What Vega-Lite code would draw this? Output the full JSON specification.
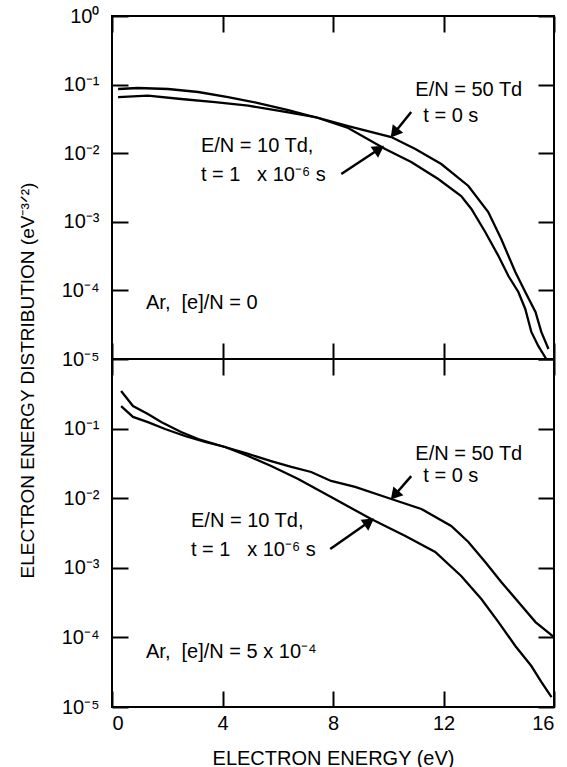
{
  "$schema": "https://vega.github.io/schema/vega-lite/v6.json",
  "padding": {"left": 17, "top": 5, "right": 6, "bottom": 2},
  "background": "white",
  "bounds": "flush",
  "config": {
    "font": "Liberation Sans",
    "view": {"stroke": "black", "strokeWidth": 2},
    "axis": {"domain": false, "grid": false, "tickSize": -16, "tickWidth": 2, "tickColor": "black", "labelColor": "black", "labelFontSize": 20, "labelFont": "Liberation Sans", "titleFont": "Liberation Sans", "titleFontSize": 20, "titleFontWeight": "normal", "titleColor": "black", "labelPadding": 29},
    "concat": {"spacing": 0}
  },
  "datasets": {
    "top": [
      {"s": "10", "x": 0.22, "y": 0.0863}, {"s": "10", "x": 0.94, "y": 0.0892}, {"s": "10", "x": 2.03, "y": 0.0863}, {"s": "10", "x": 3.12, "y": 0.078}, {"s": "10", "x": 4.2, "y": 0.0659}, {"s": "10", "x": 5.29, "y": 0.0539}, {"s": "10", "x": 6.38, "y": 0.0426}, {"s": "10", "x": 7.46, "y": 0.0326}, {"s": "10", "x": 8.55, "y": 0.0233}, {"s": "10", "x": 9.89, "y": 0.0115}, {"s": "10", "x": 10.83, "y": 0.00745}, {"s": "10", "x": 11.81, "y": 0.00421}, {"s": "10", "x": 12.64, "y": 0.00238}, {"s": "10", "x": 13.01, "y": 0.00154}, {"s": "10", "x": 13.51, "y": 0.00071}, {"s": "10", "x": 13.99, "y": 0.000317}, {"s": "10", "x": 14.35, "y": 0.000162}, {"s": "10", "x": 14.71, "y": 0.0000948}, {"s": "10", "x": 14.96, "y": 0.0000536}, {"s": "10", "x": 15.18, "y": 0.0000248}, {"s": "10", "x": 15.43, "y": 0.0000155}, {"s": "10", "x": 15.72, "y": 0.00001},
      {"s": "50", "x": 0.22, "y": 0.0659}, {"s": "50", "x": 1.3, "y": 0.0689}, {"s": "50", "x": 2.5, "y": 0.0617}, {"s": "50", "x": 3.73, "y": 0.0557}, {"s": "50", "x": 4.93, "y": 0.0492}, {"s": "50", "x": 6.12, "y": 0.0412}, {"s": "50", "x": 7.36, "y": 0.0337}, {"s": "50", "x": 8.55, "y": 0.0249}, {"s": "50", "x": 10.11, "y": 0.0172}, {"s": "50", "x": 10.98, "y": 0.0115}, {"s": "50", "x": 11.92, "y": 0.00696}, {"s": "50", "x": 12.9, "y": 0.00333}, {"s": "50", "x": 13.62, "y": 0.00139}, {"s": "50", "x": 14.09, "y": 0.000561}, {"s": "50", "x": 14.6, "y": 0.000185}, {"s": "50", "x": 14.96, "y": 0.0000948}, {"s": "50", "x": 15.33, "y": 0.0000484}, {"s": "50", "x": 15.54, "y": 0.0000248}, {"s": "50", "x": 15.8, "y": 0.000014}
    ],
    "bottom": [
      {"s": "10", "x": 0.33, "y": 0.347}, {"s": "10", "x": 0.76, "y": 0.211}, {"s": "10", "x": 1.3, "y": 0.162}, {"s": "10", "x": 1.78, "y": 0.124}, {"s": "10", "x": 2.5, "y": 0.0893}, {"s": "10", "x": 3.12, "y": 0.0709}, {"s": "10", "x": 4.09, "y": 0.0544}, {"s": "10", "x": 4.93, "y": 0.0404}, {"s": "10", "x": 5.76, "y": 0.029}, {"s": "10", "x": 6.74, "y": 0.0189}, {"s": "10", "x": 7.93, "y": 0.0104}, {"s": "10", "x": 9.38, "y": 0.00502}, {"s": "10", "x": 10.62, "y": 0.00286}, {"s": "10", "x": 11.7, "y": 0.00169}, {"s": "10", "x": 12.64, "y": 0.000762}, {"s": "10", "x": 13.37, "y": 0.000356}, {"s": "10", "x": 13.99, "y": 0.000166}, {"s": "10", "x": 14.6, "y": 0.0000752}, {"s": "10", "x": 15.18, "y": 0.0000388}, {"s": "10", "x": 15.54, "y": 0.0000229}, {"s": "10", "x": 15.91, "y": 0.0000139},
      {"s": "50", "x": 0.33, "y": 0.211}, {"s": "50", "x": 0.76, "y": 0.147}, {"s": "50", "x": 1.3, "y": 0.124}, {"s": "50", "x": 1.92, "y": 0.0987}, {"s": "50", "x": 2.64, "y": 0.0783}, {"s": "50", "x": 3.37, "y": 0.0642}, {"s": "50", "x": 4.09, "y": 0.0544}, {"s": "50", "x": 4.93, "y": 0.0432}, {"s": "50", "x": 5.76, "y": 0.0342}, {"s": "50", "x": 6.49, "y": 0.0281}, {"s": "50", "x": 7.21, "y": 0.0238}, {"s": "50", "x": 7.93, "y": 0.0177}, {"s": "50", "x": 8.8, "y": 0.0145}, {"s": "50", "x": 10.11, "y": 0.00974}, {"s": "50", "x": 11.2, "y": 0.007}, {"s": "50", "x": 12.28, "y": 0.00399}, {"s": "50", "x": 12.9, "y": 0.00235}, {"s": "50", "x": 13.51, "y": 0.00121}, {"s": "50", "x": 14.09, "y": 0.000625}, {"s": "50", "x": 14.71, "y": 0.000323}, {"s": "50", "x": 15.33, "y": 0.000166}, {"s": "50", "x": 16.0, "y": 0.000101}
    ],
    "topText": [
      {"x": 10.98, "y": 0.0834, "t": "E/N = 50 Td"},
      {"x": 11.27, "y": 0.0348, "t": "t = 0 s"},
      {"x": 3.22, "y": 0.01273, "t": "E/N = 10 Td,"},
      {"x": 3.22, "y": 0.00481, "t": "t = 1\u00a0\u00a0\u00a0x 10⁻⁶ s"},
      {"x": 1.23, "y": 0.0000655, "t": "Ar,\u00a0\u00a0[e]/N = 0"}
    ],
    "bottomText": [
      {"x": 10.98, "y": 0.0432, "t": "E/N = 50 Td"},
      {"x": 11.27, "y": 0.0208, "t": "t = 0 s"},
      {"x": 2.86, "y": 0.0047, "t": "E/N = 10 Td,"},
      {"x": 2.86, "y": 0.0018, "t": "t = 1\u00a0\u00a0\u00a0x 10⁻⁶ s"},
      {"x": 1.23, "y": 0.0000617, "t": "Ar,\u00a0\u00a0[e]/N = 5 x 10⁻⁴"}
    ],
    "topArrows": [
      {"x": 10.83, "y": 0.0399, "x2": 10.22, "y2": 0.0197, "a": 219},
      {"x": 8.3, "y": 0.00498, "x2": 9.67, "y2": 0.0115, "a": 56}
    ],
    "bottomArrows": [
      {"x": 10.83, "y": 0.0208, "x2": 10.23, "y2": 0.01104, "a": 221},
      {"x": 7.9, "y": 0.00186, "x2": 9.31, "y2": 0.00458, "a": 55}
    ]
  },
  "vconcat": [
    {
      "width": 442,
      "height": 343,
      "layer": [
        {
          "data": {"name": "top"},
          "mark": {"type": "line", "color": "black", "strokeWidth": 2.3},
          "encoding": {
            "x": {"field": "x", "type": "quantitative", "scale": {"domain": [0, 16], "nice": false}, "axis": {"orient": "bottom", "values": [0, 4, 8, 12, 16], "labels": false, "title": null}},
            "y": {"field": "y", "type": "quantitative", "scale": {"type": "log", "domain": [0.00001, 1], "nice": false}, "axis": {"orient": "left", "values": [1, 0.1, 0.01, 0.001, 0.0001, 0.00001], "labelExpr": "['10⁰','10⁻¹','10⁻²','10⁻³','10⁻⁴','10⁻⁵'][round(-log(datum.value)/LN10)]", "title": null}},
            "detail": {"field": "s"}
          }
        },
        {
          "data": {"name": "topText"},
          "mark": {"type": "text", "align": "left", "baseline": "middle", "fontSize": 20, "font": "Liberation Sans", "color": "black"},
          "encoding": {
            "x": {"field": "x", "type": "quantitative", "scale": {"domain": [0, 16], "nice": false}, "axis": {"orient": "top", "values": [0, 4, 8, 12, 16], "labels": false, "title": null}},
            "y": {"field": "y", "type": "quantitative", "scale": {"type": "log", "domain": [0.00001, 1], "nice": false}, "axis": {"orient": "right", "values": [1, 0.1, 0.01, 0.001, 0.0001, 0.00001], "labels": false, "title": null}},
            "text": {"field": "t"}
          }
        },
        {
          "data": {"name": "topArrows"},
          "mark": {"type": "rule", "color": "black", "strokeWidth": 2.5},
          "encoding": {
            "x": {"field": "x", "type": "quantitative", "axis": null},
            "y": {"field": "y", "type": "quantitative", "axis": null},
            "x2": {"field": "x2"},
            "y2": {"field": "y2"}
          }
        },
        {
          "data": {"name": "topArrows"},
          "mark": {"type": "point", "shape": "triangle-up", "filled": true, "color": "black", "opacity": 1, "size": 180},
          "encoding": {
            "x": {"field": "x2", "type": "quantitative", "axis": null},
            "y": {"field": "y2", "type": "quantitative", "axis": null},
            "angle": {"field": "a", "type": "quantitative", "scale": null}
          }
        }
      ],
      "resolve": {"axis": {"x": "independent", "y": "independent"}}
    },
    {
      "width": 442,
      "height": 348,
      "layer": [
        {
          "data": {"name": "bottom"},
          "mark": {"type": "line", "color": "black", "strokeWidth": 2.3},
          "encoding": {
            "x": {"field": "x", "type": "quantitative", "scale": {"domain": [0, 16], "nice": false}, "axis": {"orient": "bottom", "values": [0, 4, 8, 12, 16], "title": "ELECTRON ENERGY (eV)", "labelPadding": 22, "titlePadding": 15}},
            "y": {"field": "y", "type": "quantitative", "scale": {"type": "log", "domain": [0.00001, 1], "nice": false}, "axis": {"orient": "left", "values": [0.1, 0.01, 0.001, 0.0001, 0.00001], "labelExpr": "['10⁰','10⁻¹','10⁻²','10⁻³','10⁻⁴','10⁻⁵'][round(-log(datum.value)/LN10)]", "title": "ELECTRON ENERGY DISTRIBUTION (eV⁻³ᐟ²)", "titleFontSize": 19, "titleY": 21, "titlePadding": 24}},
            "detail": {"field": "s"}
          }
        },
        {
          "data": {"name": "bottomText"},
          "mark": {"type": "text", "align": "left", "baseline": "middle", "fontSize": 20, "font": "Liberation Sans", "color": "black"},
          "encoding": {
            "x": {"field": "x", "type": "quantitative", "scale": {"domain": [0, 16], "nice": false}, "axis": {"orient": "top", "values": [0, 4, 8, 12, 16], "labels": false, "title": null}},
            "y": {"field": "y", "type": "quantitative", "scale": {"type": "log", "domain": [0.00001, 1], "nice": false}, "axis": {"orient": "right", "values": [1, 0.1, 0.01, 0.001, 0.0001, 0.00001], "labels": false, "title": null}},
            "text": {"field": "t"}
          }
        },
        {
          "data": {"name": "bottomArrows"},
          "mark": {"type": "rule", "color": "black", "strokeWidth": 2.5},
          "encoding": {
            "x": {"field": "x", "type": "quantitative", "axis": null},
            "y": {"field": "y", "type": "quantitative", "axis": null},
            "x2": {"field": "x2"},
            "y2": {"field": "y2"}
          }
        },
        {
          "data": {"name": "bottomArrows"},
          "mark": {"type": "point", "shape": "triangle-up", "filled": true, "color": "black", "opacity": 1, "size": 180},
          "encoding": {
            "x": {"field": "x2", "type": "quantitative", "axis": null},
            "y": {"field": "y2", "type": "quantitative", "axis": null},
            "angle": {"field": "a", "type": "quantitative", "scale": null}
          }
        }
      ],
      "resolve": {"axis": {"x": "independent", "y": "independent"}}
    }
  ]
}
